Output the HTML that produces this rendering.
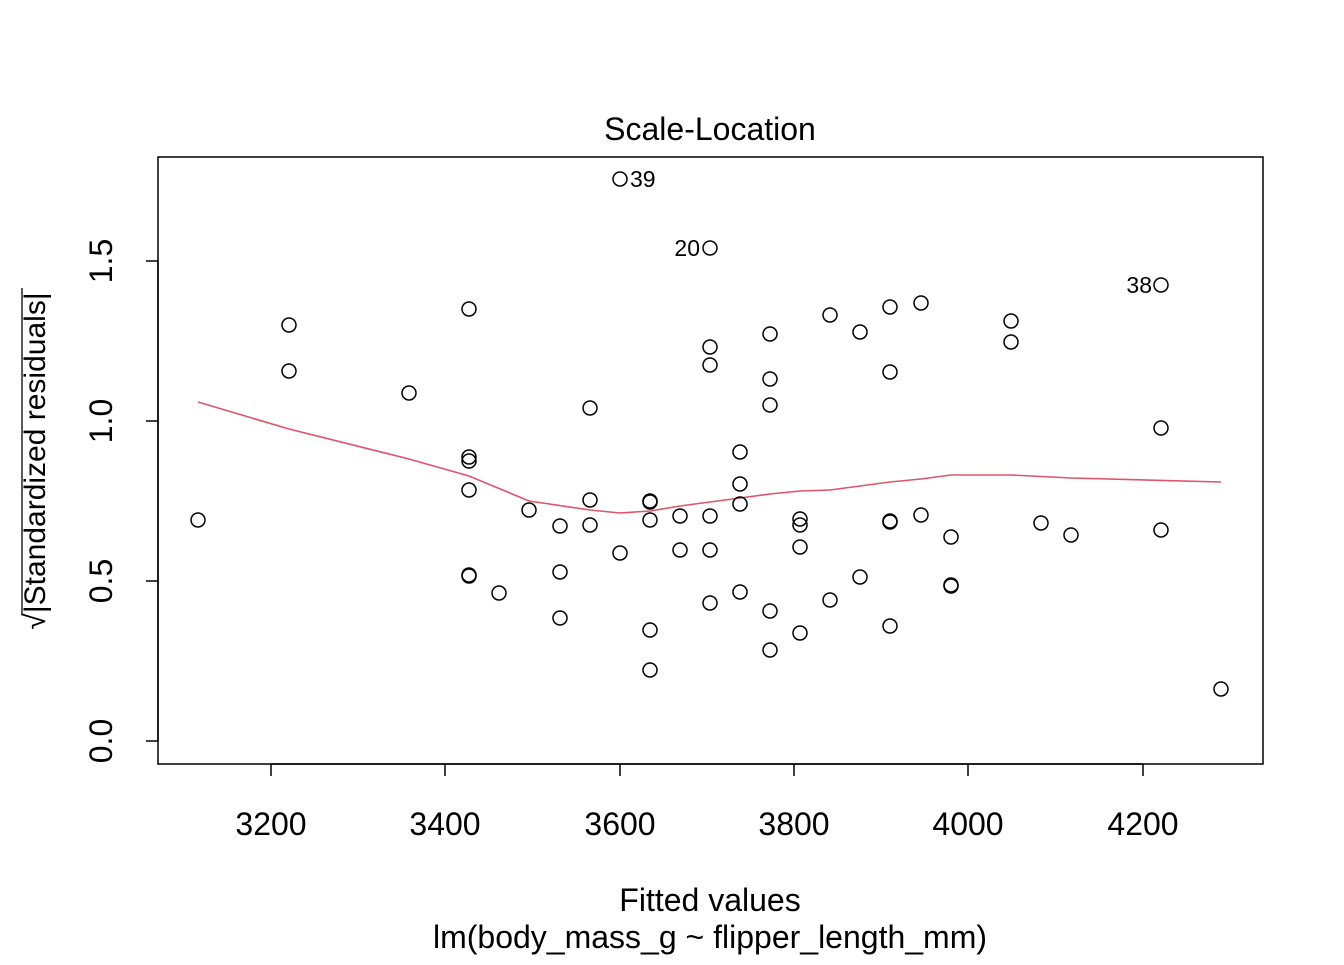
<!DOCTYPE html>
<html><head><meta charset="utf-8"><style>body{margin:0;background:#fff}</style></head><body>
<svg width="1344" height="960" xmlns="http://www.w3.org/2000/svg" font-family="Liberation Sans, Arial, sans-serif">
<rect width="1344" height="960" fill="#fff"/>
<rect x="158" y="157" width="1105" height="607" fill="none" stroke="#000" stroke-width="1.5"/>
<text x="710" y="140" font-size="32" text-anchor="middle">Scale-Location</text>
<g stroke="#000" stroke-width="1.5">
<line x1="271" y1="764" x2="1143" y2="764"/>
<line x1="271" y1="764" x2="271" y2="776"/><line x1="445" y1="764" x2="445" y2="776"/><line x1="620" y1="764" x2="620" y2="776"/><line x1="794" y1="764" x2="794" y2="776"/><line x1="968" y1="764" x2="968" y2="776"/><line x1="1143" y1="764" x2="1143" y2="776"/>
<line x1="158" y1="261" x2="158" y2="741"/>
<line x1="146" y1="741" x2="158" y2="741"/><line x1="146" y1="581" x2="158" y2="581"/><line x1="146" y1="421" x2="158" y2="421"/><line x1="146" y1="261" x2="158" y2="261"/>
</g>
<g font-size="32" text-anchor="middle">
<text x="271" y="835">3200</text><text x="445" y="835">3400</text><text x="620" y="835">3600</text><text x="794" y="835">3800</text><text x="968" y="835">4000</text><text x="1143" y="835">4200</text>
<text transform="translate(112,741) rotate(-90)">0.0</text>
<text transform="translate(112,581) rotate(-90)">0.5</text>
<text transform="translate(112,421) rotate(-90)">1.0</text>
<text transform="translate(112,261) rotate(-90)">1.5</text>
<text x="710" y="911" text-anchor="middle">Fitted values</text>
<text x="710" y="948" text-anchor="middle">lm(body_mass_g ~ flipper_length_mm)</text>
<text transform="translate(45,461) rotate(-90)" font-size="30" text-anchor="middle">√|Standardized residuals|</text>
</g>
<line x1="22" y1="288" x2="22" y2="615" stroke="#000" stroke-width="1.3"/>
<polyline fill="none" stroke="#DF536B" stroke-width="1.6" points="198,402 289,429 409,459 469,476 529,501 590,510 620,513 650,511 680,506 710,502 740,498 770,494 800,491 830,490 860,486 890,482 921,479 951,475 1011,475 1071,478 1221,482"/>
<g fill="none" stroke="#000" stroke-width="1.5">
<circle cx="198" cy="520" r="7"/><circle cx="289" cy="325" r="7"/><circle cx="289" cy="371" r="7"/><circle cx="409" cy="393" r="7"/><circle cx="469" cy="309" r="7"/><circle cx="469" cy="457" r="7"/><circle cx="469" cy="461" r="7"/><circle cx="469" cy="490" r="7"/><circle cx="469" cy="575" r="7"/><circle cx="469" cy="576" r="7"/><circle cx="499" cy="593" r="7"/><circle cx="529" cy="510" r="7"/><circle cx="560" cy="526" r="7"/><circle cx="560" cy="572" r="7"/><circle cx="560" cy="618" r="7"/><circle cx="590" cy="500" r="7"/><circle cx="590" cy="525" r="7"/><circle cx="590" cy="408" r="7"/><circle cx="620" cy="553" r="7"/><circle cx="620" cy="179" r="7"/><circle cx="650" cy="501" r="7"/><circle cx="650" cy="502" r="7"/><circle cx="650" cy="520" r="7"/><circle cx="650" cy="630" r="7"/><circle cx="650" cy="670" r="7"/><circle cx="680" cy="516" r="7"/><circle cx="680" cy="550" r="7"/><circle cx="710" cy="248" r="7"/><circle cx="710" cy="347" r="7"/><circle cx="710" cy="365" r="7"/><circle cx="710" cy="516" r="7"/><circle cx="710" cy="550" r="7"/><circle cx="710" cy="603" r="7"/><circle cx="740" cy="452" r="7"/><circle cx="740" cy="484" r="7"/><circle cx="740" cy="504" r="7"/><circle cx="740" cy="592" r="7"/><circle cx="770" cy="334" r="7"/><circle cx="770" cy="379" r="7"/><circle cx="770" cy="405" r="7"/><circle cx="770" cy="611" r="7"/><circle cx="770" cy="650" r="7"/><circle cx="800" cy="519" r="7"/><circle cx="800" cy="525" r="7"/><circle cx="800" cy="547" r="7"/><circle cx="800" cy="633" r="7"/><circle cx="830" cy="315" r="7"/><circle cx="830" cy="600" r="7"/><circle cx="860" cy="332" r="7"/><circle cx="860" cy="577" r="7"/><circle cx="890" cy="307" r="7"/><circle cx="890" cy="372" r="7"/><circle cx="890" cy="521" r="7"/><circle cx="890" cy="522" r="7"/><circle cx="890" cy="626" r="7"/><circle cx="921" cy="303" r="7"/><circle cx="921" cy="515" r="7"/><circle cx="951" cy="537" r="7"/><circle cx="951" cy="585" r="7"/><circle cx="951" cy="586" r="7"/><circle cx="1011" cy="321" r="7"/><circle cx="1011" cy="342" r="7"/><circle cx="1041" cy="523" r="7"/><circle cx="1071" cy="535" r="7"/><circle cx="1161" cy="285" r="7"/><circle cx="1161" cy="428" r="7"/><circle cx="1161" cy="530" r="7"/><circle cx="1221" cy="689" r="7"/>
</g>
<g font-size="23">
<text x="630" y="187">39</text>
<text x="700" y="256" text-anchor="end">20</text>
<text x="1152" y="293" text-anchor="end">38</text>
</g>
</svg>
</body></html>
